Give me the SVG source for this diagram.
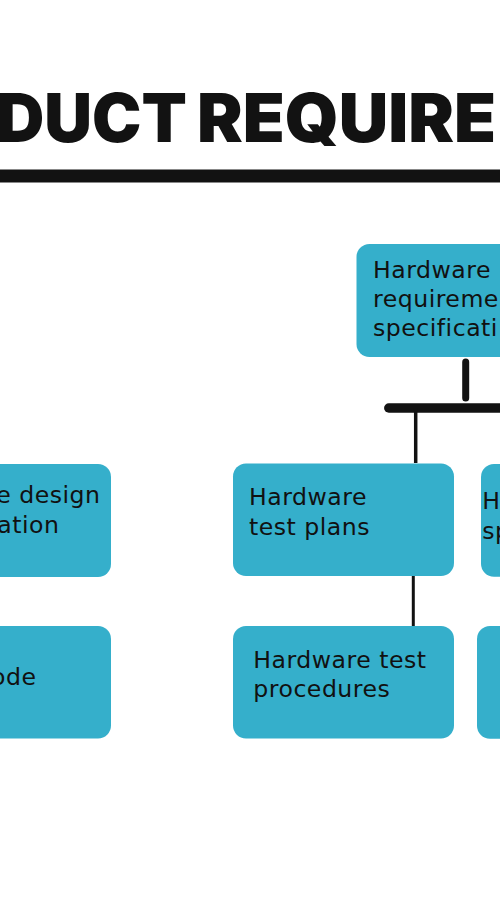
<svg xmlns="http://www.w3.org/2000/svg" width="500" height="900" viewBox="0 0 500 900">
<defs>
<style>
.box{fill:#35AFCB}
.t{font-family:"DejaVu Sans","Open Sans",sans-serif;font-size:23.6px;letter-spacing:0.5px;fill:#111111}
.e{text-anchor:end}
.title{font-family:Inter,"Open Sans","Liberation Sans",sans-serif;font-weight:900;font-size:67px;fill:#121212}
.c{stroke:#121212;fill:none}
</style>
</defs>
<rect width="500" height="900" fill="#ffffff"/>
<g id="title">
<text class="title" x="-3.5" y="141.7" textLength="190.5" lengthAdjust="spacingAndGlyphs">DUCT</text>
<text class="title" x="197" y="141.7" textLength="299" lengthAdjust="spacingAndGlyphs">REQUIRE</text>
<rect x="0" y="169.5" width="500" height="13" fill="#121212"/>
</g>
<g id="connectors">
<line class="c" x1="465.7" y1="362" x2="465.7" y2="398" stroke-width="7" stroke-linecap="round"/>
<line class="c" x1="388.8" y1="408" x2="510" y2="408" stroke-width="9.5" stroke-linecap="round"/>
<line class="c" x1="415.7" y1="408" x2="415.7" y2="463" stroke-width="3.5"/>
<line class="c" x1="413.3" y1="575" x2="413.3" y2="626.5" stroke-width="3"/>
</g>
<g id="node-hw-req-spec">
<rect class="box" x="356.5" y="244" width="221" height="113" rx="13"/>
<text class="t" x="373" y="277.7">Hardware</text>
<text class="t" x="373" y="307">requireme</text>
<text class="t" x="373" y="336.3">specificati</text>
</g>
<g id="node-sw-design-spec">
<rect class="box" x="-120" y="464" width="231" height="113" rx="13"/>
<text class="t e" x="100.5" y="503.3">e design</text>
<text class="t e" x="59.5" y="532.7">ation</text>
</g>
<g id="node-source-code">
<rect class="box" x="-120" y="626" width="231" height="112.5" rx="13"/>
<text class="t e" x="36.5" y="685.3">ode</text>
</g>
<g id="node-hw-test-plans">
<rect class="box" x="233" y="463.5" width="221" height="112.5" rx="13"/>
<text class="t" x="249" y="505">Hardware</text>
<text class="t" x="249" y="535">test plans</text>
</g>
<g id="node-hw-test-procedures">
<rect class="box" x="233" y="626" width="221" height="112.5" rx="13"/>
<text class="t" x="253.3" y="668.3">Hardware test</text>
<text class="t" x="253.3" y="697.3">procedures</text>
</g>
<g id="node-hw-spec">
<rect class="box" x="481" y="464" width="221" height="112.7" rx="13"/>
<text class="t" x="482.3" y="509.3">H</text>
<text class="t" x="482.3" y="538.5">sp</text>
</g>
<g id="node-hw-bottom-right">
<rect class="box" x="477" y="626" width="221" height="112.7" rx="13"/>
</g>
</svg>
